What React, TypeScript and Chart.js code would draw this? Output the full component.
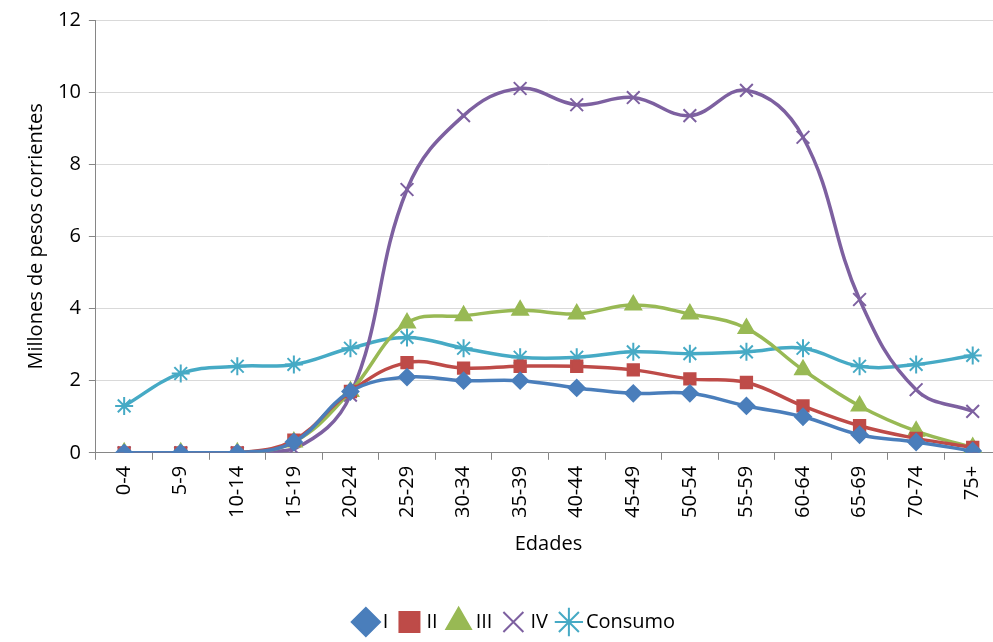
import React, { useEffect, useRef } from 'react';
import Chart from 'chart.js/auto';

const edades = ['0-4', '5-9', '10-14', '15-19', '20-24', '25-29', '30-34', '35-39', '40-44', '45-49', '50-54', '55-59', '60-64', '65-69', '70-74', '75+'];
const serieI = [0, 0, 0, 0.3, 1.7, 2.1, 2.0, 2.0, 1.8, 1.65, 1.65, 1.3, 1.0, 0.5, 0.3, 0.05];
const serieII = [0, 0, 0, 0.35, 1.7, 2.5, 2.35, 2.4, 2.4, 2.3, 2.05, 1.95, 1.3, 0.75, 0.4, 0.15];
const serieIII = [0, 0, 0, 0.3, 1.7, 3.6, 3.8, 3.95, 3.85, 4.1, 3.85, 3.45, 2.3, 1.3, 0.6, 0.15];
const serieIV = [0, 0, 0, 0.1, 1.6, 7.3, 9.35, 10.1, 9.65, 9.85, 9.35, 10.05, 8.75, 4.25, 1.75, 1.15];
const consumo = [1.3, 2.2, 2.4, 2.45, 2.9, 3.2, 2.9, 2.65, 2.65, 2.8, 2.75, 2.8, 2.9, 2.4, 2.45, 2.7];

const font = "'Open Sans', 'Liberation Sans', sans-serif";

const App: React.FC = () => {
  const chartRef = useRef<HTMLCanvasElement | null>(null);

  useEffect(() => {
    if (!chartRef.current) return;
    document.body.style.overflow = 'hidden';
    const mk = (label: string, data: number[], color: string, pointStyle: any, radius: number) => ({
      label,
      data,
      borderColor: color,
      backgroundColor: color,
      borderWidth: 3.5,
      pointStyle,
      pointRadius: radius,
      pointBorderWidth: 2,
      tension: 0.4,
    });
    const chart = new Chart(chartRef.current, {
      type: 'line',
      data: {
        labels: edades,
        datasets: [
          mk('I', serieI, '#4a7ebb', 'rectRot', 8),
          mk('II', serieII, '#be4b48', 'rect', 8),
          mk('III', serieIII, '#98b954', 'triangle', 9),
          mk('IV', serieIV, '#7d60a0', 'crossRot', 9),
          mk('Consumo', consumo, '#46aac5', 'star', 9),
        ],
      },
      options: {
        animation: false,
        responsive: true,
        maintainAspectRatio: false,
        layout: { padding: { top: 12, right: 0, left: 22, bottom: 0 } },
        plugins: {
          legend: {
            position: 'bottom',
            labels: { usePointStyle: true, color: '#000', font: { family: font, size: 20 }, padding: 14, boxWidth: 14 },
          },
          tooltip: { enabled: false },
        },
        scales: {
          x: {
            offset: true,
            grid: { display: true, drawOnChartArea: false, offset: true, tickLength: 7, color: '#868686' },
            border: { color: '#868686' },
            ticks: { color: '#000', font: { family: font, size: 20 }, maxRotation: 90, minRotation: 90, padding: 6 },
            title: { display: true, text: 'Edades', color: '#000', font: { family: font, size: 20 }, padding: { top: 8, bottom: 42 } },
          },
          y: {
            min: 0,
            max: 12,
            ticks: { stepSize: 2, color: '#000', font: { family: font, size: 20 }, padding: 8 },
            grid: { color: '#d9d9d9', tickColor: '#868686', tickLength: 7 },
            border: { color: '#868686' },
            title: { display: true, text: 'Millones de pesos corrientes', color: '#000', font: { family: font, size: 20 }, padding: 2 },
          },
        },
      },
    });
    return () => chart.destroy();
  }, []);

  return (
    <div style={{ position: 'absolute', left: 0, top: 0, width: 1012, height: 642, background: '#fff' }}>
      <canvas ref={chartRef} />
    </div>
  );
};

export default App;
